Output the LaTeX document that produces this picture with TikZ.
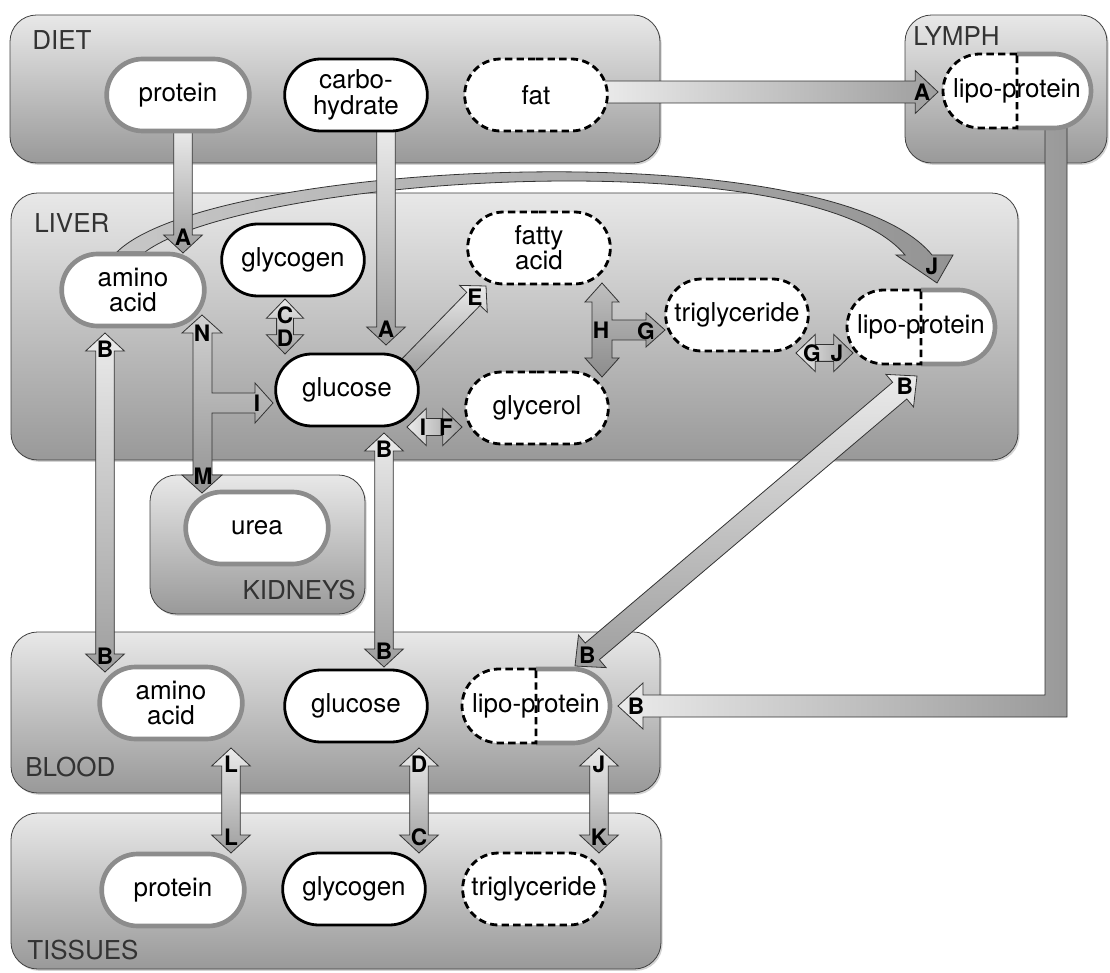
\documentclass[tikz,border=0pt]{standalone}
\usepackage{fontspec}
\setmainfont{TeX Gyre Heros}
\usetikzlibrary{calc,shapes.misc,shadows}
\pgfdeclarelayer{regions}
\pgfdeclarelayer{arrows}
\pgfsetlayers{regions,arrows,main}
\def\aw{7pt}\def\ahw{14.5pt}\def\ahl{13.5pt}
\tikzset{
 region/.style={draw=black!75, line width=0.6pt, rounded corners=20pt, top color=black!9, bottom color=black!40,
   drop shadow={shadow xshift=1.2pt, shadow yshift=-1.4pt, opacity=0.35}},
 reglabel/.style={text=black!80, font=\fontsize{19.5}{20}\selectfont, inner sep=0pt, anchor=west},
 pilltext/.style={font=\fontsize{19.5}{19}\selectfont, inner sep=0pt, align=center},
 pill/.style={rounded rectangle, fill=white, minimum width=107pt, minimum height=54pt, inner sep=0pt, align=center, font=\fontsize{19.5}{19}\selectfont},
 greyb/.style={pill, draw=black!45, line width=3.5pt},
 blackb/.style={pill, draw=black, line width=2.1pt},
 dashb/.style={pill, draw=black, line width=2.1pt, dash pattern=on 5.5pt off 3.2pt},
 arr/.style={draw=black!80, line width=0.6pt, line join=miter},
 vshade/.style={top color=black!8, bottom color=black!38},
 hshade/.style={left color=black!8, right color=black!38},
 lbl/.style={font=\fontsize{17}{17}\selectfont\bfseries, inner sep=0pt},
 smallarr/.style={/utils/exec={\def\aw{6.3pt}\def\ahw{14pt}\def\ahl{14.5pt}}},
 bigarr/.style={/utils/exec={\def\aw{8.2pt}\def\ahw{16pt}\def\ahl{17pt}}},
}
\newcommand\sarr[4][]{%
 \path[arr,vshade,#1] let \p1=($(#3)-(#2)$), \n1={atan2(\y1,\x1)} in
  ($(#2)+(\n1+90:\aw)$) -- ($(#3)+(\n1+180:\ahl)+(\n1+90:\aw)$) -- ($(#3)+(\n1+180:\ahl)+(\n1+90:\ahw)$)
  -- (#3) -- ($(#3)+(\n1+180:\ahl)+(\n1-90:\ahw)$) -- ($(#3)+(\n1+180:\ahl)+(\n1-90:\aw)$)
  -- ($(#2)+(\n1-90:\aw)$) -- cycle;
 \node[lbl] at ($(#3)!12pt!(#2)$) {#4};
}
\newcommand\darr[5][]{%
 \path[arr,vshade,#1] let \p1=($(#3)-(#2)$), \n1={atan2(\y1,\x1)} in
  ($(#2)+(\n1:\ahl)+(\n1+90:\aw)$) -- ($(#3)+(\n1+180:\ahl)+(\n1+90:\aw)$) -- ($(#3)+(\n1+180:\ahl)+(\n1+90:\ahw)$)
  -- (#3) -- ($(#3)+(\n1+180:\ahl)+(\n1-90:\ahw)$) -- ($(#3)+(\n1+180:\ahl)+(\n1-90:\aw)$)
  -- ($(#2)+(\n1:\ahl)+(\n1-90:\aw)$) -- ($(#2)+(\n1:\ahl)+(\n1-90:\ahw)$)
  -- (#2) -- ($(#2)+(\n1:\ahl)+(\n1+90:\ahw)$) -- cycle;
 \node[lbl] at ($(#2)!12pt!(#3)$) {#4};
 \node[lbl] at ($(#3)!12pt!(#2)$) {#5};
}
\newcommand\lipo[3]{%
 \draw[line width=3.5pt, draw=black!45, fill=white] (#2,#3-37) -- (#2+37,#3-37) arc[start angle=90, end angle=-90, radius=27.75pt] -- (#2,#3+37);
 \draw[line width=2.1pt, dash pattern=on 5.5pt off 3.2pt, fill=white] (#2,#3-37) -- (#2-37,#3-37) arc[start angle=90, end angle=270, radius=27.75pt] -- (#2,#3+37) -- cycle;
 \node[pilltext] (#1) at (#2,#3) {lipo-protein};
}
\begin{document}
\begin{tikzpicture}[x=0.75pt,y=-0.75pt]
\useasboundingbox (0,0) rectangle (1110,973);

% ---------- compartments ----------
\begin{pgfonlayer}{regions}
\path[region] (10,15) rectangle (660,163);
\path[region] (905,15) rectangle (1107,163);
\path[region] (11,193) rectangle (1018,460);
\path[region] (150,475) rectangle (365,614);
\path[region] (11,632) rectangle (660,793);
\path[region] (11,813) rectangle (661,969);
\end{pgfonlayer}
\node[reglabel] (tdiet) at (32,40) {DIET};
\node[reglabel] (tlymph) at (913,36) {LYMPH};
\node[reglabel] (tliver) at (34,223) {LIVER};
\node[reglabel, anchor=east] (tkid) at (356,590) {KIDNEYS};
\node[reglabel] (tblood) at (25,767) {BLOOD};
\node[reglabel] (ttiss) at (27,950) {TISSUES};

% ---------- substances ----------
\node[greyb] (dprot) at (178,95) {protein};
\node[blackb] (carbo) at (356,95) {carbo-\\hydrate};
\node[dashb] (fat) at (536,95) {fat};
\lipo{lymlipo}{1017}{91}
\node[greyb] (lamino) at (133,290) {amino\\acid};
\node[blackb] (lglyc) at (293,260) {glycogen};
\node[blackb] (lgluc) at (347,390) {glucose};
\node[dashb] (fatty) at (539,248) {fatty\\acid};
\node[dashb] (glycerol) at (537,408) {glycerol};
\node[dashb] (ltri) at (737,315) {triglyceride};
\lipo{llipo}{921}{327}
\node[greyb] (urea) at (257,528) {urea};
\node[greyb] (bamino) at (171,703) {amino\\acid};
\node[blackb] (bgluc) at (356,706) {glucose};
\lipo{blipo}{536}{706}
\node[greyb] (tprot) at (173,890) {protein};
\node[blackb] (tglyc) at (354,889) {glycogen};
\node[dashb] (ttri) at (534,889) {triglyceride};

% ---------- arrow end points ----------
\coordinate (a1) at (183,128); \coordinate (a2) at (183,253);
\coordinate (a3) at (386,128); \coordinate (a4) at (386,345);
\coordinate (a5) at (600,92);  \coordinate (a6) at (938,92);
\coordinate (b1) at (105,333); \coordinate (b2) at (105,672);
\coordinate (c1) at (285,299); \coordinate (c2) at (285,354);
\coordinate (e1) at (408,366); \coordinate (e2) at (486,286);
\coordinate (f1) at (407,427); \coordinate (f2) at (462,427);
\coordinate (g1) at (384,433); \coordinate (g2) at (384,667);
\coordinate (j1) at (796,353); \coordinate (j2) at (853,353);
\coordinate (k1) at (575,666); \coordinate (k2) at (917,376);
\coordinate (l1) at (231,748); \coordinate (l2) at (231,853);
\coordinate (m1) at (419,748); \coordinate (m2) at (419,853);
\coordinate (n1) at (599,748); \coordinate (n2) at (599,853);

\begin{pgfonlayer}{arrows}
% curved J arrow from liver amino acid to liver lipo-protein
\path[arr, left color=black!22, right color=black!42]
  (117,252) .. controls (210,160) and (830,130) .. (932,255) -- (953,255) -- (937,283) -- (896,255) -- (905,255)
  .. controls (810,140) and (250,175) .. (145,252) -- cycle;
\node[lbl] at (932,266) {J};

\sarr{a1}{a2}{A}
\sarr{a3}{a4}{A}
\sarr[bigarr,hshade]{a5}{a6}{A}

% lymph -> blood elbow arrow
\path[arr, left color=black!8, right color=black!40]
  (1045,120) -- (1067,120) -- (1067,717) -- (643,717) -- (643,729) -- (618,706) -- (643,683) -- (643,695) -- (1045,695) -- cycle;
\node[lbl] at (636,706) {B};

\darr{b1}{b2}{B}{B}
\darr[smallarr]{c1}{c2}{C}{D}
\sarr{e1}{e2}{E}
\darr[smallarr,hshade]{f1}{f2}{I}{F}
\darr{g1}{g2}{B}{B}
\darr[smallarr,hshade]{j1}{j2}{G}{J}
\darr[bigarr]{k1}{k2}{B}{B}
\darr{l1}{l2}{L}{L}
\darr{m1}{m2}{D}{C}
\darr{n1}{n2}{J}{K}

% N / M / I three-headed arrow
\path[arr, top color=black!18, bottom color=black!42]
  (202,315) -- (222,333) -- (212,333) -- (212,393) -- (255,393) -- (255,383) -- (273,403) -- (255,423) -- (255,413)
  -- (212,413) -- (212,475) -- (222,475) -- (202,493) -- (182,475) -- (193,475) -- (193,333) -- (182,333) -- cycle;
\node[lbl] at (202,333) {N};
\node[lbl] at (203,476) {M};
\node[lbl] at (257,403) {I};

% H / G three-headed arrow
\path[arr, top color=black!25, bottom color=black!45]
  (602,283) -- (619,302) -- (612,302) -- (612,320) -- (646,320) -- (646,313) -- (665,330) -- (646,347) -- (646,340)
  -- (612,340) -- (612,358) -- (619,358) -- (602,377) -- (585,358) -- (592,358) -- (592,302) -- (585,302) -- cycle;
\node[lbl] at (601,330) {H};
\node[lbl] at (646,331) {G};
\end{pgfonlayer}
\end{tikzpicture}
\end{document}
